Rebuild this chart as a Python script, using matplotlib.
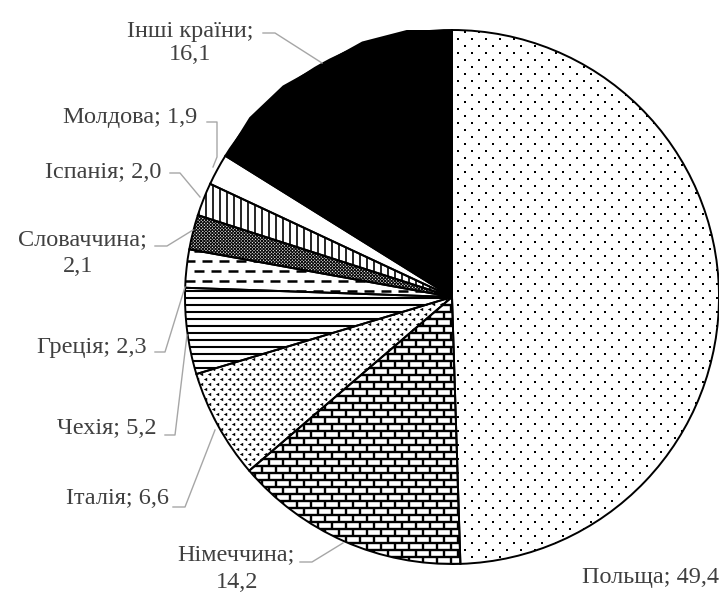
import numpy as np
import matplotlib
matplotlib.use("Agg")
import matplotlib.pyplot as plt
from matplotlib.collections import LineCollection

plt.rcParams["font.family"] = ["Liberation Serif", "DejaVu Serif"]

# дані
countries = ["Польща", "Німеччина", "Італія", "Чехія", "Греція",
             "Словаччина", "Іспанія", "Молдова", "Інші країни"]
shares = [49.4, 14.2, 6.6, 5.2, 2.3, 2.1, 2.0, 1.9, 16.1]

W, H = 719, 593
CX, CY, R = 452, 297, 267   # центр і радіус у пікселях (y зверху)
TEXT_C = "#404040"
LEAD_C = "#a6a6a6"
FS = 17.5


def fy(y):
    return H - y


fig = plt.figure(figsize=(W / 100, H / 100), dpi=100)
ax = fig.add_axes([0, 0, 1, 1])

fills = ["white"] * 8 + ["black"]
wedges, _ = ax.pie(shares, startangle=90, counterclock=False, colors=fills,
                   center=(CX, fy(CY)), radius=R,
                   wedgeprops=dict(edgecolor="black", linewidth=1.4))
ax.set_xlim(0, W)
ax.set_ylim(0, H)
ax.set_aspect("equal")
ax.axis("off")

x0, x1 = CX - R, CX + R
y0, y1 = fy(CY) - R, fy(CY) + R


def add_lines(segs, w, lw):
    lc = LineCollection(segs, colors="black", linewidths=lw, zorder=3)
    ax.add_collection(lc)
    lc.set_clip_path(w)


def dots(w, dx, dy, size, marker="s"):
    xs, ys = [], []
    for i, yy in enumerate(np.arange(y0, y1, dy)):
        off = (dx / 2) * (i % 2)
        for xx in np.arange(x0 + off, x1, dx):
            xs.append(xx)
            ys.append(yy)
    sc = ax.scatter(xs, ys, s=size, marker=marker, color="black", linewidths=0, zorder=3)
    sc.set_clip_path(w)


def hlines(w, dy, lw):
    add_lines([[(x0, yy), (x1, yy)] for yy in np.arange(y0, y1, dy)], w, lw)


def vlines(w, dx, lw):
    add_lines([[(xx, y0), (xx, y1)] for xx in np.arange(x0, x1, dx)], w, lw)


def dashes(w, dy, dash, gap, lw):
    segs = []
    for i, yy in enumerate(np.arange(y0 + 3, y1, dy)):
        off = ((dash + gap) / 2) * (i % 2)
        for xx in np.arange(x0 + off, x1, dash + gap):
            segs.append([(xx, yy), (xx + dash, yy)])
    add_lines(segs, w, lw)


def bricks(w, dy, bw, lw):
    segs = []
    for i, yy in enumerate(np.arange(y0, y1, dy)):
        segs.append([(x0, yy), (x1, yy)])
        off = (bw / 2) * (i % 2)
        for xx in np.arange(x0 + off, x1, bw):
            segs.append([(xx, yy), (xx, yy + dy)])
    add_lines(segs, w, lw)


def cross(w, step, lw):
    segs = []
    span = 2 * R
    for c in np.arange(-span, span, step):
        segs.append([(x0 + c, y0), (x0 + c + span, y1)])
        segs.append([(x0 + c, y1), (x0 + c + span, y0)])
    add_lines(segs, w, lw)


dots(wedges[0], 14, 7, 1.4)
bricks(wedges[1], 7, 14, 1.7)
dots(wedges[2], 8, 5, 6, marker="<")
hlines(wedges[3], 7, 1.5)
dashes(wedges[4], 10, 10, 7, 1.8)
cross(wedges[5], 3.2, 0.8)
vlines(wedges[6], 7, 1.2)

# межі секторів поверх візерунків, заливка під ними
for w, c in zip(wedges, fills):
    w.set_zorder(4)
    if c == "white":
        w.set_facecolor("none")
    ax.add_patch(plt.Polygon(w.get_path().vertices, closed=True, facecolor=c,
                             edgecolor="none", zorder=1,
                             transform=w.get_transform()))

# підписи: рядки тексту (x, y центру), лінії-виноски
label_pos = [
    [(650, 578)],
    [(236, 555), (237, 582)],
    [(117, 498)],
    [(107, 428)],
    [(92, 347)],
    [(82, 240), (78, 267)],
    [(103, 172)],
    [(130, 117)],
    [(190, 32), (190, 55)],
]
leaders = [
    None,
    [(300, 562), (312, 562), (343, 543)],
    [(173, 507), (185, 507), (215, 430)],
    [(165, 435), (175, 435), (187, 335)],
    [(155, 352), (165, 352), (185, 287)],
    [(155, 246), (167, 246), (193, 230)],
    [(170, 173), (180, 173), (200, 197)],
    [(207, 122), (217, 122), (217, 157), (213, 167)],
    [(263, 33), (275, 33), (322, 63)],
]

for name, val, pos, lead in zip(countries, shares, label_pos, leaders):
    num = f"{val:.1f}".replace(".", ",")
    lines = [f"{name}; {num}"] if len(pos) == 1 else [f"{name};", num]
    for s, (tx, ty) in zip(lines, pos):
        ax.text(tx, fy(ty), s, ha="center", va="center",
                fontsize=FS, color=TEXT_C, zorder=6)
    if lead:
        ax.plot([p[0] for p in lead], [fy(p[1]) for p in lead],
                color=LEAD_C, lw=1.0, zorder=6, clip_on=False)

fig.savefig("out.png", dpi=100)
